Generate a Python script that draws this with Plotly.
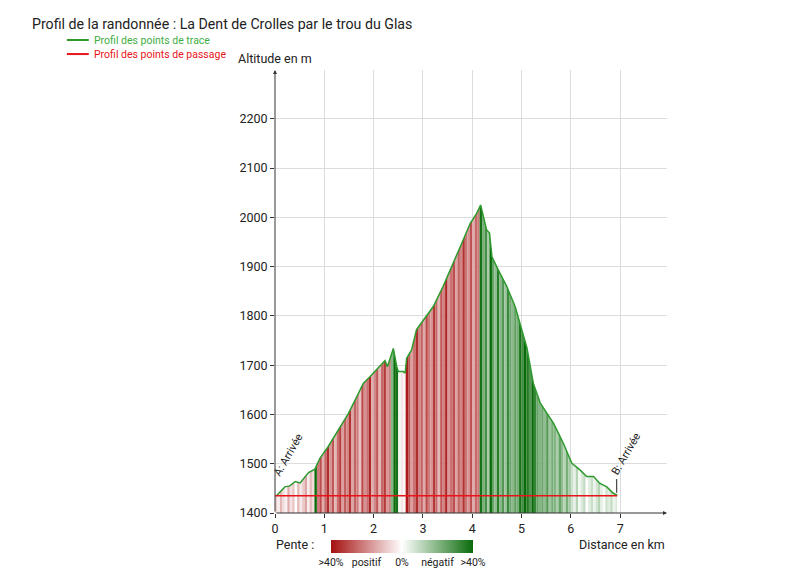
import numpy as np
import plotly.graph_objs as go
from plotly.colors import sample_colorscale

# profile of the track (distance in km, altitude in m)
distance = [0.03, 0.20, 0.30, 0.41, 0.51, 0.61, 0.68, 0.81, 0.91, 1.08, 1.28, 1.49,
            1.66, 1.79, 1.93, 2.06, 2.16, 2.23, 2.28, 2.40, 2.47, 2.50, 2.60, 2.64,
            2.67, 2.77, 2.87, 2.94, 3.21, 3.41, 3.62, 3.79, 3.96, 4.09, 4.17, 4.23,
            4.29, 4.35, 4.40, 4.53, 4.70, 4.87, 4.97, 5.11, 5.24, 5.38, 5.65, 5.85,
            6.02, 6.19, 6.32, 6.46, 6.59, 6.73, 6.86, 6.94]
altitude = [1435, 1453, 1455, 1464, 1461, 1474, 1482, 1489, 1511, 1535, 1569, 1602,
            1636, 1663, 1677, 1690, 1700, 1709, 1697, 1734, 1697, 1687, 1687, 1684,
            1714, 1731, 1772, 1782, 1819, 1860, 1907, 1948, 1988, 2008, 2025, 2002,
            1975, 1968, 1920, 1893, 1860, 1819, 1785, 1735, 1663, 1623, 1582, 1541,
            1501, 1487, 1474, 1474, 1460, 1453, 1440, 1436]

# waypoints profile (start / finish)
passage_distance = [0.0, 6.94]
passage_altitude = [1435, 1435]

# slope of each 50 m stripe in % (positive = uphill)
stripe_step = 0.05
pente = [8, 3, 12, 6, 2, 14, 5, 10, 0, 12, 4, 9, 15, 3, 11, 6,
         -40,
         22, 30, 14, 25, 35, 18, 28, 12, 24, 32, 16, 27, 20, 34, 15,
         26, 22, 10, 30, 18, 24, 36, 14, 20, 28, 12, 25, 33, 17, 22,
         -20, -40, -38,
         -2, 4, 2,
         38,
         28, 16, 24, 35, 20, 26, 14, 30, 22, 18, 33, 25, 12, 28, 21,
         36, 17, 24, 30, 15, 26, 20, 34, 23, 18, 29, 14, 25, 22,
         -38, -22, -30, -14, -40, -25, -18, -35, -20, -28, -16, -32, -24,
         -19, -26, -22, -38, -30, -40, -36, -28, -40, -33, -25, -20,
         -24, -18, -28, -16, -22, -20, -14, -25, -18, -12, -22, -15,
         -8, -4, -12, -2, -6, -10, 0, -5, -9, -3, -7, -12, -4, -1, -8,
         -5, -10, -3, -6]

colorscale = [[0.0, '#a50f0f'], [0.5, '#ffffff'], [1.0, '#0a6b0a']]
base_alt = 1400
trace_color = '#2e9a2e'
passage_color = '#e8141a'

fig = go.Figure()

# coloured stripes under the profile
for i, p in enumerate(pente):
    x0 = i * stripe_step
    x1 = min(x0 + stripe_step, distance[-1])
    xs = np.linspace(x0, x1, 4)
    ys = np.interp(xs, distance, altitude)
    col = sample_colorscale(colorscale, [(40 - max(-40, min(40, p))) / 80])[0]
    fig.add_trace(go.Scatter(
        x=[x0] + list(xs) + [x1, x0], y=[base_alt] + list(ys) + [base_alt, base_alt],
        fill='toself', fillcolor=col, mode='none', line=dict(width=0),
        showlegend=False, hoverinfo='skip'))

# profile lines
fig.add_trace(go.Scatter(x=distance, y=altitude, mode='lines', showlegend=False,
                         line=dict(color=trace_color, width=1.5)))
fig.add_trace(go.Scatter(x=passage_distance, y=passage_altitude, mode='lines',
                         showlegend=False, line=dict(color=passage_color, width=1.5)))

# dummy trace for the slope colour bar
fig.add_trace(go.Scatter(
    x=[None], y=[None], mode='markers', showlegend=False, hoverinfo='skip',
    marker=dict(color=[0], cmin=-40, cmax=40, colorscale=colorscale, showscale=True,
                colorbar=dict(orientation='h', x=0.1173, xanchor='left', y=-0.0914,
                              yanchor='middle', len=162, lenmode='pixels', thickness=13,
                              outlinewidth=0, ticks='', tickangle=0,
                              tickvals=[-40, -20, 0, 20, 40],
                              ticktext=['>40%', 'positif', '0%', 'négatif', '>40%'],
                              tickfont=dict(size=10.5, color='#222')))))

# hand-made legend
legend_items = [('Profil des points de trace', trace_color, '#3fae3f', 1.0677),
                ('Profil des points de passage', passage_color, passage_color, 1.036)]
for label, lcol, tcol, ly in legend_items:
    fig.add_shape(type='line', xref='paper', yref='paper', x0=-0.531, x1=-0.475,
                  y0=ly, y1=ly, line=dict(color=lcol, width=2))
    fig.add_annotation(x=-0.467, y=ly, xref='paper', yref='paper', text=label,
                       xanchor='left', yanchor='middle', showarrow=False,
                       font=dict(size=10.5, color=tcol))

# axes arrows
fig.add_annotation(x=0, y=2299, ax=0, ay=1400, xref='x', yref='y', axref='x', ayref='y',
                   text='', showarrow=True, arrowhead=2, arrowsize=0.8, arrowwidth=1,
                   arrowcolor='#333')
fig.add_annotation(x=7.95, y=1400, ax=0, ay=1400, xref='x', yref='y', axref='x', ayref='y',
                   text='', showarrow=True, arrowhead=2, arrowsize=0.8, arrowwidth=1,
                   arrowcolor='#333')

# start / finish labels
fig.add_annotation(x=0.28, y=1518, text='A: Arrivée', textangle=-60, showarrow=False,
                   xanchor='center', yanchor='middle', font=dict(size=11, color='#222'))
fig.add_annotation(x=7.13, y=1520, text='B: Arrivée', textangle=-60, showarrow=False,
                   xanchor='center', yanchor='middle', font=dict(size=11, color='#222'))
fig.add_shape(type='line', x0=6.93, x1=6.93, y0=1441, y1=1469,
              line=dict(color='#222', width=1))

# axis titles and colour bar label
fig.add_annotation(x=-0.001, y=1.027, xref='paper', yref='paper', text='Altitude en m',
                   xanchor='center', yanchor='middle', showarrow=False,
                   font=dict(size=12.5, color='#222'))
fig.add_annotation(x=1.0, y=-0.07, xref='paper', yref='paper', text='Distance en km',
                   xanchor='right', yanchor='middle', showarrow=False,
                   font=dict(size=12.5, color='#222'))
fig.add_annotation(x=-0.003, y=-0.072, xref='paper', yref='paper', text='Pente :',
                   xanchor='left', yanchor='middle', showarrow=False,
                   font=dict(size=12.5, color='#222'))

# the page body adds an 8 px offset, so margins are set 8 px smaller on top/left
fig.update_layout(
    width=800, height=575,
    margin=dict(l=267, r=141, t=62, b=70, autoexpand=False),
    paper_bgcolor='white', plot_bgcolor='white',
    font=dict(family='Roboto', size=12, color='#222'),
    title=dict(text='Profil de la randonnée : La Dent de Crolles par le trou du Glas',
               x=0.03, xanchor='left', y=0.972, yanchor='middle',
               font=dict(size=14.2, color='#222')),
    showlegend=False,
)

fig.update_xaxes(range=[0, 7.95], tickvals=[0, 1, 2, 3, 4, 5, 6, 7],
                 showgrid=True, gridcolor='#dcdcdc', gridwidth=1,
                 zeroline=False, showline=False, ticks='outside', ticklen=4,
                 tickcolor='#333', tickfont=dict(size=12.5))
fig.update_yaxes(range=[1400, 2299], dtick=100, tick0=1400,
                 showgrid=True, gridcolor='#dcdcdc', gridwidth=1,
                 zeroline=False, showline=False, ticks='outside', ticklen=4,
                 tickcolor='#333', tickfont=dict(size=12.5))

fig.write_html("out.html")
